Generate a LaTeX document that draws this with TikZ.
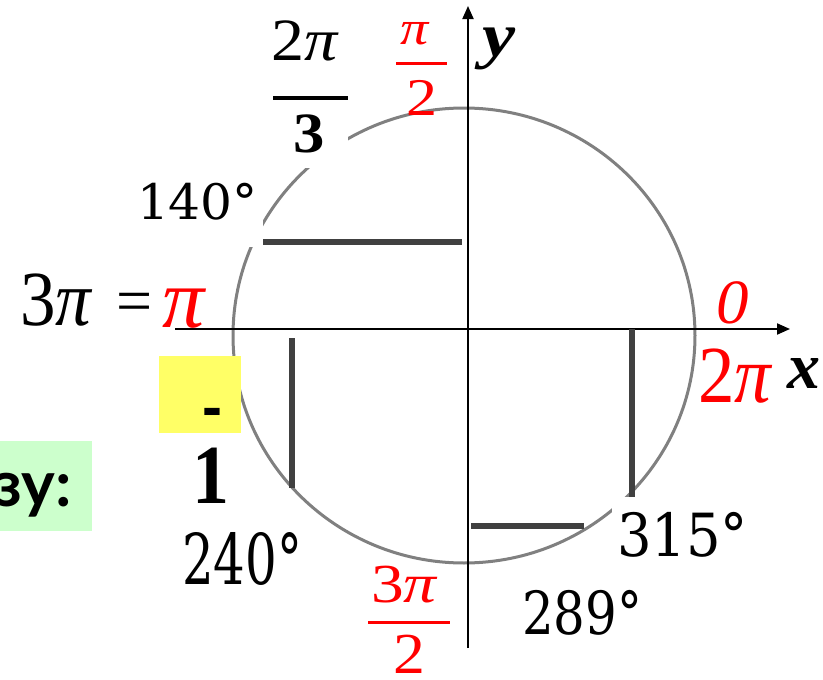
\documentclass[tikz,border=0pt]{standalone}
\usepackage{fontspec}
\usepackage{graphicx}
\setmainfont{Liberation Serif}
\newfontfamily\degfont{DejaVu Serif}
\newfontfamily\latofont{Lato}
\newfontfamily\arialfont{Liberation Sans}
\usetikzlibrary{arrows.meta}
\definecolor{circgray}{HTML}{808080}
\definecolor{seggray}{HTML}{404040}
\definecolor{hlyellow}{HTML}{FFFF66}
\definecolor{hlgreen}{HTML}{CCFFCC}
\newcommand\fitbox[3]{\resizebox*{#1pt}{#2pt}{#3}}
\newcommand\sclbl[3]{\scalebox{#1}[1]{\fontsize{#2}{#2}\selectfont #3}}
\begin{document}
\begin{tikzpicture}[x=1pt,y=-1pt,
  lbl/.style={anchor=north west,inner sep=0pt,outer sep=0pt},
  bl/.style={anchor=base west,inner sep=0pt,outer sep=0pt},
  axisline/.style={line width=2pt,-{Triangle[length=13pt,width=11pt]}},
  seg/.style={line width=6pt,seggray},
  fracbar/.style={line width=3pt}]
\useasboundingbox (0,0) rectangle (823,680);
\fill[white] (0,0) rectangle (823,680);
% circle
\draw[circgray,line width=3pt] (464,335.5) ellipse [x radius=231, y radius=227.5];
% white backgrounds of labels
\fill[white] (130,175) rectangle (263,247);
\fill[white] (265,20) rectangle (348,168);
\fill[white] (612,497) rectangle (750,560);
% axes
\coordinate (xs) at (175,329);
\coordinate (xe) at (790,329);
\coordinate (ys) at (468,648);
\coordinate (ye) at (468,6);
\draw[axisline] (xs) -- (xe);
\draw[axisline] (ys) -- (ye);
% projection segments
\coordinate (a1) at (263,242); \coordinate (a2) at (462,242);
\coordinate (b1) at (292,338); \coordinate (b2) at (292,488);
\coordinate (c1) at (632,329); \coordinate (c2) at (632,497);
\coordinate (d1) at (471,526); \coordinate (d2) at (584,526);
\draw[seg] (a1) -- (a2);
\draw[seg] (b1) -- (b2);
\draw[seg] (c1) -- (c2);
\draw[seg] (d1) -- (d2);
% highlight boxes
\fill[hlyellow] (159,356) rectangle (241,433);
\fill[hlgreen] (0,441) rectangle (92,531);
% 2pi/3
\node[bl] (tpn) at (271,60) {\sclbl{1.1}{60}{2\textit{π}}};
\coordinate (tb1) at (273,98); \coordinate (tb2) at (348,98);
\draw[line width=4pt] (tb1) -- (tb2);
\node[bl] (tpd) at (293,152) {\sclbl{1.1}{57}{\bfseries 3}};
% pi/2
\node[bl,text=red] (hpn) at (400,45) {\sclbl{1.17}{48}{\textit{π}}};
\coordinate (hb1) at (396,63); \coordinate (hb2) at (447,63);
\draw[fracbar,red] (hb1) -- (hb2);
\node[bl,text=red] (hpd) at (406,115) {\sclbl{1.17}{53}{2}};
% y
\node[lbl] (ylab) at (482,28) {\fitbox{33}{42}{\bfseries\itshape y}};
% 140
\node[lbl] (d140) at (137,183) {\fitbox{121}{37}{\degfont 140°}};
% 3pi = pi
\node[bl] (tpi) at (20,325) {\sclbl{0.91}{78}{3\textit{π}}};
\node[bl] (eq) at (116,322) {\sclbl{1}{64}{=}};
\node[bl,text=red] (rpi) at (162,327) {\sclbl{1}{84}{\textit{π}}};
% 0 and 2pi
\node[bl,text=red] (zero) at (716,323) {\sclbl{1.03}{63}{\textit{0}}};
\node[bl,text=red] (twopi) at (698,402) {\sclbl{0.9}{81}{2\textit{π}}};
\node[lbl] (xlab) at (787,358) {\fitbox{33}{30}{\bfseries\itshape x}};
% -1
\node[anchor=base,inner sep=0pt,font=\arialfont\bfseries\fontsize{60}{60}\selectfont] (minus) at (212.5,427) {-};
\node[bl] (one) at (192,503) {\sclbl{0.88}{84}{\bfseries 1}};
% 3y:
\node[anchor=north east,inner sep=0pt] (zy) at (72,473) {\resizebox*{!}{44pt}{\latofont\bfseries зу:}};
% degrees
\node[lbl] (d240) at (182,532) {\fitbox{120}{53}{\degfont 240°}};
\node[lbl] (d315) at (617,512) {\fitbox{131}{45}{\degfont 315°}};
\node[lbl] (d289) at (522,590) {\fitbox{120}{45}{\degfont 289°}};
% 3pi/2
\node[bl,text=red] (bpn) at (371,602) {\sclbl{1.19}{55}{3\textit{π}}};
\coordinate (bb1) at (368,622); \coordinate (bb2) at (450,622);
\draw[fracbar,red] (bb1) -- (bb2);
\node[bl,text=red] (bpd) at (393,673) {\sclbl{1.1}{58}{2}};
\end{tikzpicture}
\end{document}
